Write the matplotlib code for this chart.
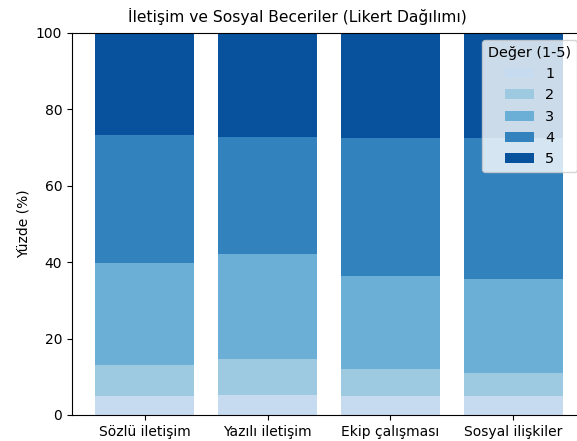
import matplotlib
matplotlib.use("Agg")
import matplotlib.pyplot as plt
import numpy as np

# Likert distribution (%) per skill
skills = ["Sözlü iletişim", "Yazılı iletişim", "Ekip çalışması", "Sosyal ilişkiler"]
levels = ["1", "2", "3", "4", "5"]
p1 = [5.0, 5.2, 5.0, 5.0]
p2 = [8.1, 9.5, 7.0, 5.9]
p3 = [26.6, 27.4, 24.5, 24.7]
p4 = [33.6, 30.7, 36.0, 36.9]
p5 = [26.7, 27.2, 27.5, 27.5]
colors = ["#c6dbef", "#9ecae1", "#6baed6", "#3182bd", "#08519c"]

W, H = 577, 441
fig = plt.figure(figsize=(W / 100, H / 100), dpi=100)
# axes runs a bit past the right edge of the picture, as in the reference
ax = fig.add_axes([72 / W, 1 - 415 / H, (586 - 72) / W, (415 - 33) / H])

x = np.arange(len(skills))
bottom = np.zeros(len(skills))
for lab, vals, c in zip(levels, [p1, p2, p3, p4, p5], colors):
    ax.bar(x, vals, bottom=bottom, color=c, width=0.8, label=lab)
    bottom += np.array(vals)

ax.set_xticks(x)
ax.set_xticklabels(skills)
ax.set_ylim(0, 100)
ax.set_ylabel("Yüzde (%)")
ax.legend(title="Değer (1-5)", loc="upper right", bbox_to_anchor=(1 - 2 / 514, 1),
          fontsize=10.4, title_fontsize=10.4)
fig.suptitle("İletişim ve Sosyal Beceriler (Likert Dağılımı)", x=297 / W, y=1 - 8 / H,
             va="top", fontsize=11.2)

fig.savefig("out.png", dpi=100)
